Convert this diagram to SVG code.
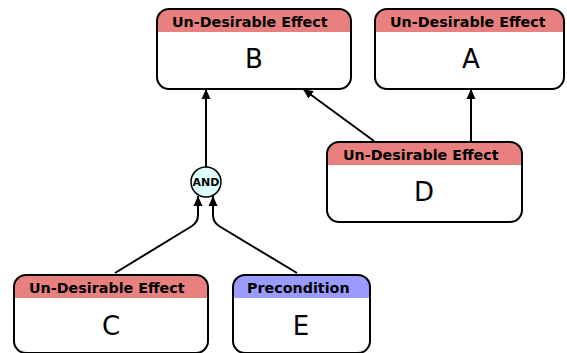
<svg xmlns="http://www.w3.org/2000/svg" width="567" height="353" viewBox="0 0 567 353">
<defs>
<marker id="arr" viewBox="0 0 10 12" refX="10" refY="6" markerWidth="10" markerHeight="12" markerUnits="userSpaceOnUse" orient="auto">
<path d="M0,1.5 L10,6 L0,10.5 Z" fill="#000"/>
</marker>
</defs>
<style>
.box{fill:#fff;stroke:none}
.frame{fill:none;stroke:#000;stroke-width:2}
.ude{fill:#E88080}
.pre{fill:#9A9AFF}
.hdr{font-family:"DejaVu Sans",sans-serif;font-weight:bold;font-size:14.3px;fill:#000}
.lbl{font-family:"DejaVu Sans",sans-serif;font-size:26px;fill:#000;text-anchor:middle}
.edge{fill:none;stroke:#000;stroke-width:2;marker-end:url(#arr)}
.and{fill:#E0FFFF;stroke:#000;stroke-width:1.5}
.andt{font-family:"DejaVu Sans",sans-serif;font-weight:bold;font-size:11px;text-anchor:middle;fill:#000}
</style>
<rect width="567" height="353" fill="#fff"/>
<g id="connectors">
<path class="edge" d="M206,167 L206,89"/>
<path class="edge" d="M374,141 L303,89"/>
<path class="edge" d="M471,141 L471,89"/>
<path class="edge" d="M115,273 L192,226 Q198,222 198,215 L198,196"/>
<path class="edge" d="M297,273 L219,226 Q213,222 213,215 L213,196"/>
</g>
<g id="node-B">
<rect class="box" x="157" y="9" width="194" height="80" rx="12"/>
<path class="ude" d="M157,32 L157,21 A12,12 0 0 1 169,9 L339,9 A12,12 0 0 1 351,21 L351,32 Z"/>
<rect class="frame" x="157" y="9" width="194" height="80" rx="12"/>
<text class="hdr" x="172" y="27">Un-Desirable Effect</text>
<text class="lbl" x="254" y="68">B</text>
</g>
<g id="node-A">
<rect class="box" x="375" y="9" width="189" height="80" rx="12"/>
<path class="ude" d="M375,32 L375,21 A12,12 0 0 1 387,9 L552,9 A12,12 0 0 1 564,21 L564,32 Z"/>
<rect class="frame" x="375" y="9" width="189" height="80" rx="12"/>
<text class="hdr" x="390" y="27">Un-Desirable Effect</text>
<text class="lbl" x="471" y="68">A</text>
</g>
<g id="node-D">
<rect class="box" x="327" y="142" width="195" height="80" rx="12"/>
<path class="ude" d="M327,165 L327,154 A12,12 0 0 1 339,142 L510,142 A12,12 0 0 1 522,154 L522,165 Z"/>
<rect class="frame" x="327" y="142" width="195" height="80" rx="12"/>
<text class="hdr" x="343" y="160">Un-Desirable Effect</text>
<text class="lbl" x="424" y="201">D</text>
</g>
<g id="node-AND">
<circle class="and" cx="206" cy="182" r="15"/>
<text class="andt" x="206" y="186">AND</text>
</g>
<g id="node-C">
<rect class="box" x="14" y="275" width="194" height="78" rx="12"/>
<path class="ude" d="M14,298 L14,287 A12,12 0 0 1 26,275 L196,275 A12,12 0 0 1 208,287 L208,298 Z"/>
<rect class="frame" x="14" y="275" width="194" height="78" rx="12"/>
<text class="hdr" x="29" y="293">Un-Desirable Effect</text>
<text class="lbl" x="111" y="335">C</text>
</g>
<g id="node-E">
<rect class="box" x="233" y="275" width="137" height="78" rx="12"/>
<path class="pre" d="M233,298 L233,287 A12,12 0 0 1 245,275 L358,275 A12,12 0 0 1 370,287 L370,298 Z"/>
<rect class="frame" x="233" y="275" width="137" height="78" rx="12"/>
<text class="hdr" x="247" y="293">Precondition</text>
<text class="lbl" x="301" y="335">E</text>
</g>
</svg>
